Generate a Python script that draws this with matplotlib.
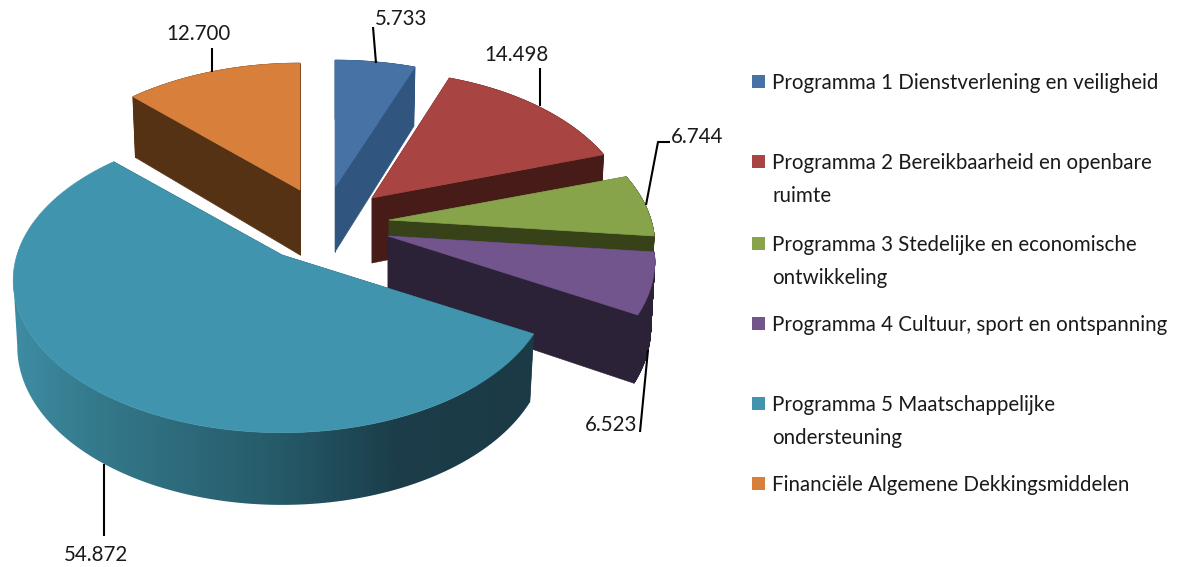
"""
Exploded 3D-look pie of the programme budget. Slices are projected by hand
because matplotlib has no perspective pie.
"""

import matplotlib
matplotlib.use("Agg")
import matplotlib.pyplot as plt
import numpy as np
from matplotlib.colors import LinearSegmentedColormap
from matplotlib.patches import Polygon, Rectangle

plt.rcParams["font.family"] = ["Lato", "DejaVu Sans"]

# data
programmes = [
    "Programma 1 Dienstverlening en veiligheid",
    "Programma 2 Bereikbaarheid en openbare\nruimte",
    "Programma 3 Stedelijke en economische\nontwikkeling",
    "Programma 4 Cultuur, sport en ontspanning",
    "Programma 5 Maatschappelijke\nondersteuning",
    "Financiële Algemene Dekkingsmiddelen",
]
amounts = [5.733, 14.498, 6.744, 6.523, 54.872, 12.700]

# style
top_colors = ["#4672a5", "#a84442", "#87a44b", "#72558c", "#4094ad", "#d8803b"]
wall_colors = ["#30557f", "#471b18", "#384218", "#2c2238", "#1b3b47", "#563215"]
apexes = [(335, 187), (372, 198), (389, 220), (388, 236), (282, 255), (300, 190)]
radii_x = [265, 256, 262, 263, 265, 263]
legend_y = [82, 162, 244, 324, 404, 484]
draw_order = [5, 0, 1, 2, 3, 4]

RY, PERSP = 148, 0.167
DEPTH = 65
LINE_GAP = 33

# gradient along the big slice's outer wall
grad_stops = [(0.0, "#3e8ca3"), (0.16, "#34798b"), (0.51, "#265a69"), (0.74, "#1b3d49"), (1.0, "#1b3a46")]
wall_cmap = LinearSegmentedColormap.from_list("teal_wall", grad_stops)


def project(apex, rx, theta):
    """theta is clockwise from north, returns top points and extruded bottom points."""
    u, v = np.sin(theta), np.cos(theta)
    w = 1 + PERSP * v
    x = apex[0] + rx * u / w
    y = apex[1] - RY * v / w
    depth = DEPTH / (1 + 0.1 * v)
    xb = apex[0] + (x - apex[0]) * 0.985
    return np.column_stack([x, y]), np.column_stack([xb, y + depth])


def draw_slice(ax, apex, rx, start, end, top_col, wall_col, gradient=False):
    theta = np.linspace(start, end, 160)
    top, bottom = project(apex, rx, theta)
    apex_pt = np.array(apex, dtype=float)
    apex_low = apex_pt + [0, DEPTH]

    # radial walls
    for t, b in [(top[0], bottom[0]), (top[-1], bottom[-1])]:
        ax.add_patch(Polygon([apex_pt, t, b, apex_low], fc=wall_col, ec=wall_col, lw=0.4, zorder=2))

    # outer wall
    if gradient:
        # only up to the leftmost point, past that the wall is behind the top face
        stop = np.argmin(top[:, 0]) + 1
        wall = np.vstack([top[:stop], bottom[:stop][::-1]])
        clip = Polygon(wall, fc="none", ec="none", transform=ax.transData)
        ax.add_patch(clip)
        ramp = np.linspace(0, 1, 400).reshape(1, -1)
        x0, x1 = wall[:, 0].min(), wall[:, 0].max()
        y0, y1 = wall[:, 1].min(), wall[:, 1].max()
        im = ax.imshow(ramp, cmap=wall_cmap, extent=(x0, x1, y1, y0), aspect="auto", zorder=2)
        im.set_clip_path(clip)
    else:
        for i in range(len(theta) - 1):
            quad = [top[i], top[i + 1], bottom[i + 1], bottom[i]]
            ax.add_patch(Polygon(quad, fc=wall_col, ec=wall_col, lw=0.6, zorder=2))

    outline = np.vstack([apex_pt, top])
    ax.add_patch(Polygon(outline, fc=top_col, ec=top_col, lw=0.5, zorder=2))


fig = plt.figure(figsize=(11.84, 5.67), dpi=100)
ax = fig.add_axes([0, 0, 1, 1])

edges = np.radians(np.cumsum([0] + amounts) / sum(amounts) * 360)
for i in draw_order:
    draw_slice(ax, apexes[i], radii_x[i], edges[i], edges[i + 1], top_colors[i], wall_colors[i], gradient=i == 4)

ax.set_xlim(0, 1184)
ax.set_ylim(567, 0)
ax.set_aspect("auto")
ax.axis("off")

# value labels and leader lines
label_pos = [(401, 19), (517, 55), (697, 137), (611, 425), (96, 555), (198, 34)]
leaders = [
    [(373, 27), (376, 63)],
    [(540, 68), (540, 106)],
    [(670, 142), (658, 142), (646, 205)],
    [(640, 432), (648, 350)],
    [(104, 464), (104, 536)],
    [(212, 48), (212, 72)],
]
for value, pos, line in zip(amounts, label_pos, leaders):
    xs, ys = zip(*line)
    ax.plot(xs, ys, color="black", lw=1.5, solid_capstyle="butt", zorder=5)
    ax.text(pos[0], pos[1], f"{value:.3f}", ha="center", va="center", fontsize=14.8, color="#1a1a1a")

# legend
for label, col, y in zip(programmes, top_colors, legend_y):
    ax.add_patch(Rectangle((752, y - 7), 13, 13, fc=col, ec="none"))
    for j, part in enumerate(label.split("\n")):
        ax.text(772, y + 1 + j * LINE_GAP, part, ha="left", va="center", fontsize=14.8, color="#1a1a1a")

fig.savefig("out.png", dpi=100)
plt.close(fig)
